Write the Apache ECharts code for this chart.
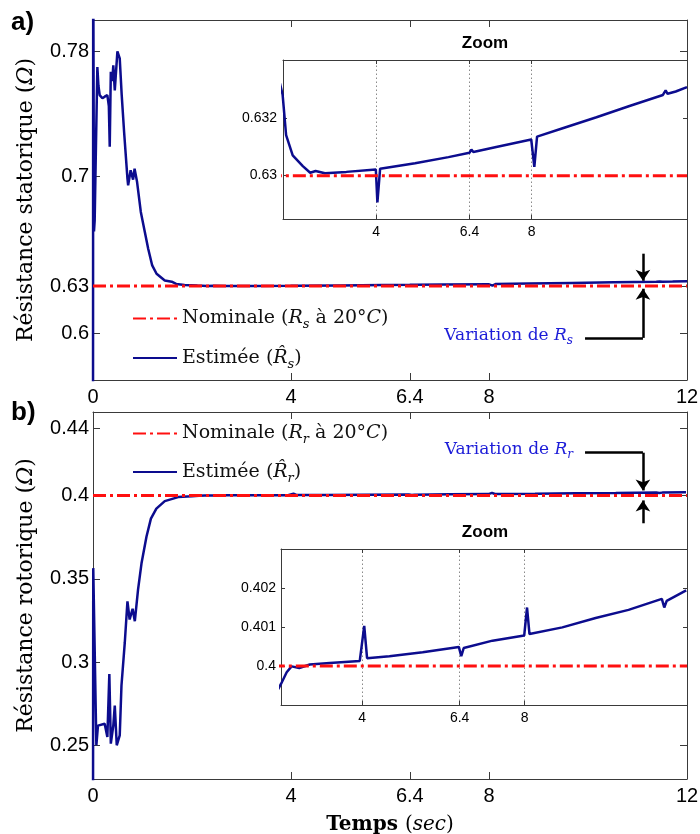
<!DOCTYPE html>
<html><head><meta charset="utf-8">
<script src="https://cdn.jsdelivr.net/npm/echarts@6/dist/echarts.min.js"></script>
<style>html,body{margin:0;padding:0;background:#fff}#c{width:700px;height:834px}</style>
</head><body><div id="c"></div>
<script>
// ---------------- data ----------------
const xTicks = [0, 4, 6.4, 8, 12];
const zoomXTicks = [4, 6.4, 8];
const rsTicks = [0.6, 0.63, 0.7, 0.78];
const rrTicks = [0.25, 0.3, 0.35, 0.4, 0.44];
const rsZoomTicks = [0.63, 0.632];
const rrZoomTicks = [0.4, 0.401, 0.402];

const nomT = [0, 12];
const nomRs = [0.63, 0.63];
const nomRr = [0.4, 0.4];

const rsT = [0, 0.004, 0.02, 0.034, 0.06, 0.088, 0.11, 0.135, 0.19, 0.236, 0.29, 0.32, 0.338, 0.36, 0.39, 0.41, 0.44, 0.493, 0.54, 0.58, 0.628, 0.696, 0.71, 0.76, 0.81, 0.84, 0.89, 0.966, 1.047, 1.115, 1.196, 1.284, 1.45, 1.59, 1.68, 1.85, 2.11, 2.3, 2.44, 2.68, 3.23, 3.99, 4.03, 4.1, 5.0, 5.86, 6.4, 6.45, 6.5, 7.09, 7.99, 8.07, 8.14, 8.8, 9.67, 10.52, 11.38, 11.45, 11.5, 11.71, 12];
const rsV = [0.50, 0.85, 0.665, 0.672, 0.72, 0.770, 0.758, 0.752, 0.750, 0.751, 0.752, 0.745, 0.719, 0.767, 0.761, 0.771, 0.755, 0.780, 0.7755, 0.752, 0.7286, 0.6987, 0.6944, 0.704, 0.698, 0.705, 0.6966, 0.6774, 0.6646, 0.6539, 0.6432, 0.6379, 0.6336, 0.6328, 0.6314, 0.6307, 0.63033, 0.6301, 0.63016, 0.63008, 0.63013, 0.63021, 0.62907, 0.63024, 0.63043, 0.63064, 0.63079, 0.6309, 0.63082, 0.63099, 0.63125, 0.6303, 0.63135, 0.63164, 0.63202, 0.63241, 0.63279, 0.63295, 0.63283, 0.63291, 0.63306];

const rrT = [0, 0.005, 0.068, 0.1, 0.236, 0.29, 0.33, 0.36, 0.41, 0.44, 0.48, 0.54, 0.575, 0.642, 0.696, 0.74, 0.8, 0.845, 0.91, 0.98, 1.08, 1.17, 1.28, 1.45, 1.72, 2.0, 2.14, 2.26, 2.45, 2.71, 3.2, 3.94, 4.05, 4.12, 4.67, 5.49, 6.38, 6.44, 6.5, 7.21, 7.99, 8.06, 8.12, 8.93, 9.75, 10.56, 11.38, 11.44, 11.5, 11.98];
const rrV = [0.20, 0.3564, 0.2502, 0.262, 0.2631, 0.2552, 0.2929, 0.2512, 0.262, 0.274, 0.2502, 0.2561, 0.2859, 0.3117, 0.3365, 0.3256, 0.332, 0.3246, 0.3435, 0.3593, 0.3752, 0.3861, 0.3921, 0.3966, 0.399, 0.39954, 0.39984, 0.39999, 0.39995, 0.40004, 0.40008, 0.40013, 0.40103, 0.4002, 0.40025, 0.40035, 0.40049, 0.40025, 0.40046, 0.40065, 0.40078, 0.4015, 0.40082, 0.40099, 0.40123, 0.40144, 0.40172, 0.4015, 0.40167, 0.40194];

// annotation anchor points (data space): [xStart, xArrow, yLine, yTip, yOtherStart, yOtherTip]
const annRs = [9.94, 11.11, 0.5969, 0.6283, 0.6507, 0.6334];
const annRr = [9.94, 11.11, 0.4256, 0.4030, 0.3833, 0.3970];

// ---------------- styling ----------------
const BLUE = '#0c0c8e';
const RED = '#ff1010';
const AX = '#3a3a3a';
const SERIF = 'DejaVu Serif';
const SANS = 'Liberation Sans';
const DASHDOT = [13, 4, 3, 4];

const zip = (a, b) => a.map((t, i) => [t, b[i]]);
const fmt = v => String(+(+v).toFixed(4));

function xPair(grid, min, max, ticks, fs, margin, tickLen, showLabel, extra) {
  const base = {
    type: 'value', gridIndex: grid, min: min, max: max,
    axisLine: { show: true, onZero: false, lineStyle: { color: AX, width: 1 } },
    axisTick: { show: true, inside: true, length: tickLen, customValues: ticks, lineStyle: { color: AX } },
    splitLine: { show: false }
  };
  const bottom = Object.assign({}, base, {
    position: 'bottom',
    axisLabel: { show: showLabel, customValues: ticks, formatter: fmt, margin: margin,
      fontFamily: SANS, fontSize: fs, color: '#000' }
  }, extra || {});
  const top = Object.assign({}, base, { position: 'top', axisLabel: { show: false } });
  return [bottom, top];
}
function yPair(grid, min, max, ticks, fs, margin, tickLen, extra) {
  const base = {
    type: 'value', gridIndex: grid, min: min, max: max,
    axisLine: { show: true, onZero: false, lineStyle: { color: AX, width: 1 } },
    axisTick: { show: true, inside: true, length: tickLen, customValues: ticks, lineStyle: { color: AX } },
    splitLine: { show: false }
  };
  const left = Object.assign({}, base, {
    position: 'left',
    axisLabel: { show: true, customValues: ticks, formatter: fmt, margin: margin,
      fontFamily: SANS, fontSize: fs, color: '#000' }
  }, extra || {});
  const right = Object.assign({}, base, { position: 'right', axisLabel: { show: false } });
  return [left, right];
}

const nameRich = {
  t: { fontFamily: SERIF, fontSize: 22, color: '#000' },
  i: { fontFamily: SERIF, fontSize: 22, fontStyle: 'italic', color: '#000' },
  b: { fontFamily: SERIF, fontSize: 20, fontWeight: 'bold', color: '#000' },
  ti: { fontFamily: SERIF, fontSize: 20, fontStyle: 'italic', color: '#000' },
  tp: { fontFamily: SERIF, fontSize: 20, color: '#000' }
};

const xAxes = [].concat(
  xPair(0, 0, 12, xTicks, 20, 7, 7, true),
  xPair(1, 0, 12, xTicks, 20, 7, 7, true, {
    name: '{b|Temps }{tp|(}{ti|sec}{tp|)}', nameLocation: 'middle', nameGap: 36,
    nameTextStyle: { rich: nameRich }
  }),
  xPair(2, 1.6, 12, zoomXTicks, 14, 6, 4, true),
  xPair(3, 2, 12, zoomXTicks, 14, 6, 4, true)
);
const yAxes = [].concat(
  yPair(0, 0.57, 0.8, rsTicks, 20, 4, 7, {
    name: '{t|Résistance statorique (}{i|Ω}{t|)}', nameLocation: 'middle', nameRotate: 90, nameGap: 56,
    nameTextStyle: { rich: nameRich }
  }),
  yPair(1, 0.23, 0.45, rrTicks, 20, 4, 7, {
    name: '{t|Résistance rotorique (}{i|Ω}{t|)}', nameLocation: 'middle', nameRotate: 90, nameGap: 56,
    nameTextStyle: { rich: nameRich }
  }),
  yPair(2, 0.6285, 0.634, rsZoomTicks, 14, 6, 4),
  yPair(3, 0.399, 0.403, rrZoomTicks, 14, 5, 4)
);
// inset axes above main content
for (let k = 4; k < 8; k++) { xAxes[k].z = 8; yAxes[k].z = 8; }

const legRich = {
  t: { fontFamily: SERIF, fontSize: 19, color: '#111', lineHeight: 26 },
  i: { fontFamily: SERIF, fontSize: 19, fontStyle: 'italic', color: '#111', lineHeight: 26 },
  s: { fontFamily: SERIF, fontSize: 13, fontStyle: 'italic', color: '#111', lineHeight: 14, verticalAlign: 'bottom' }
};
const legendText = {
  nomA: '{t|Nominale (}{i|R}{s|s}{t| à 20°}{i|C}{t|)}',
  estA: '{t|Estimée (}{i|R̂}{s|s}{t|)}',
  nomB: '{t|Nominale (}{i|R}{s|r}{t| à 20°}{i|C}{t|)}',
  estB: '{t|Estimée (}{i|R̂}{s|r}{t|)}'
};

const annRich = {
  c: { fontFamily: SERIF, fontSize: 17, color: '#1c1cd8', lineHeight: 22 },
  ci: { fontFamily: SERIF, fontSize: 17, fontStyle: 'italic', color: '#1c1cd8', lineHeight: 22 },
  cs: { fontFamily: SERIF, fontSize: 12, fontStyle: 'italic', color: '#1c1cd8', lineHeight: 12, verticalAlign: 'bottom' }
};
function annotation(a, sub, padB) {
  return {
    silent: true, animation: false, symbol: ['none', 'arrow'], symbolSize: 11,
    lineStyle: { color: '#000', width: 2.5, type: 'solid' },
    label: { show: false },
    emphasis: { disabled: true },
    data: [
      [{ coord: [a[0], a[2]], symbol: 'none',
         label: { show: true, position: 'start', distance: 12, formatter: '{c|Variation de }{ci|R}{cs|' + sub + '}',
                  rich: annRich, padding: [0, 0, padB, 0] } },
       { coord: [a[1], a[2]], symbol: 'none' }],
      [{ coord: [a[1], a[2]], symbol: 'none' }, { coord: [a[1], a[3]] }],
      [{ coord: [a[1], a[4]], symbol: 'none' }, { coord: [a[1], a[5]] }]
    ]
  };
}
function gridLines() {
  return {
    silent: true, animation: false, symbol: ['none', 'none'], label: { show: false }, z: 8,
    lineStyle: { color: '#8a8a8a', width: 1, type: [1.5, 2.5] },
    emphasis: { disabled: true },
    data: zoomXTicks.map(v => ({ xAxis: v }))
  };
}

const lineCommon = { type: 'line', showSymbol: false, symbol: 'none', animation: false, silent: true };
const estStyle = { color: BLUE, width: 2.5 };
const nomStyle = { color: RED, width: 3, type: DASHDOT };

const series = [
  Object.assign({}, lineCommon, { name: 'estA', xAxisIndex: 0, yAxisIndex: 0, z: 3, data: zip(rsT, rsV),
    lineStyle: estStyle, itemStyle: { color: BLUE }, markLine: annotation(annRs, 's', 4) }),
  Object.assign({}, lineCommon, { name: 'nomA', xAxisIndex: 0, yAxisIndex: 0, z: 4, data: zip(nomT, nomRs),
    lineStyle: nomStyle, itemStyle: { color: RED } }),
  Object.assign({}, lineCommon, { name: 'estB', xAxisIndex: 2, yAxisIndex: 2, z: 3, data: zip(rrT, rrV),
    lineStyle: estStyle, itemStyle: { color: BLUE }, markLine: annotation(annRr, 'r', 6) }),
  Object.assign({}, lineCommon, { name: 'nomB', xAxisIndex: 2, yAxisIndex: 2, z: 4, data: zip(nomT, nomRr),
    lineStyle: nomStyle, itemStyle: { color: RED } }),
  // insets
  Object.assign({}, lineCommon, { name: 'estA_zoom', xAxisIndex: 4, yAxisIndex: 4, z: 9, data: zip(rsT, rsV),
    lineStyle: estStyle, markLine: gridLines() }),
  Object.assign({}, lineCommon, { name: 'nomA_zoom', xAxisIndex: 4, yAxisIndex: 4, z: 10, data: zip(nomT, nomRs),
    lineStyle: nomStyle }),
  Object.assign({}, lineCommon, { name: 'estB_zoom', xAxisIndex: 6, yAxisIndex: 6, z: 9, data: zip(rrT, rrV),
    lineStyle: estStyle, markLine: gridLines() }),
  Object.assign({}, lineCommon, { name: 'nomB_zoom', xAxisIndex: 6, yAxisIndex: 6, z: 10, data: zip(nomT, nomRr),
    lineStyle: nomStyle })
];

function legend(names, top, gap) {
  return {
    data: names, orient: 'vertical', left: 132, top: top, padding: 0, itemGap: gap,
    itemWidth: 44, itemHeight: 14, selectedMode: false,
    itemStyle: { opacity: 0, borderWidth: 0 },
    formatter: n => legendText[n],
    textStyle: { rich: legRich }
  };
}

const option = {
  backgroundColor: '#fff',
  animation: false,
  grid: [
    { left: 93, top: 20, width: 594, height: 360, outerBoundsMode: 'none' },
    { left: 93, top: 412, width: 594, height: 367, outerBoundsMode: 'none' },
    { left: 283, top: 60, width: 404, height: 159, show: true, backgroundColor: '#fff', borderWidth: 0, z: 6, outerBoundsMode: 'none' },
    { left: 281, top: 549, width: 406, height: 156, show: true, backgroundColor: '#fff', borderWidth: 0, z: 6, outerBoundsMode: 'none' }
  ],
  title: [
    { text: 'a)', left: 11, top: 10, padding: 0, textStyle: { fontFamily: SANS, fontWeight: 'bold', fontSize: 26, color: '#000' } },
    { text: 'b)', left: 11, top: 400, padding: 0, textStyle: { fontFamily: SANS, fontWeight: 'bold', fontSize: 26, color: '#000' } }
  ],
  graphic: [
    { type: 'text', x: 485, y: 43, z: 20, style: { text: 'Zoom', align: 'center', verticalAlign: 'middle', font: 'bold 17px "Liberation Sans"', fill: '#000' } },
    { type: 'text', x: 485, y: 532, z: 20, style: { text: 'Zoom', align: 'center', verticalAlign: 'middle', font: 'bold 17px "Liberation Sans"', fill: '#000' } }
  ],
  legend: [legend(['nomA', 'estA'], 309, 17), legend(['nomB', 'estB'], 424, 16)],
  xAxis: xAxes,
  yAxis: yAxes,
  series: series
};

const chart = echarts.init(document.getElementById('c'), null, { renderer: 'canvas' });
chart.setOption(option);
</script>
</body></html>
